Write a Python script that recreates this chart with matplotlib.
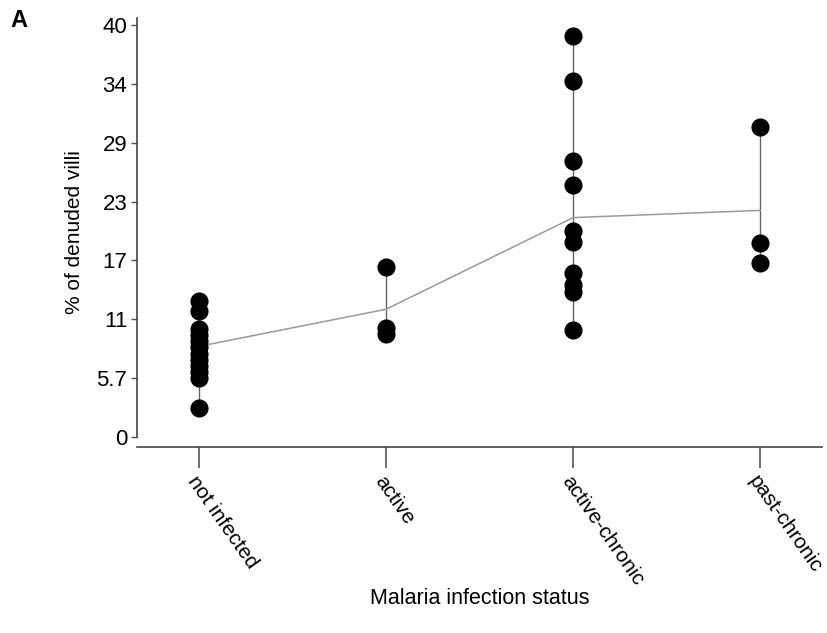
#! /usr/bin/env python3
# coding: utf-8

import matplotlib
matplotlib.use('Agg')
import matplotlib.pyplot as plt

plt.rcParams['font.family'] = ['Liberation Sans', 'DejaVu Sans']

CATEGORIES = ['not infected', 'active', 'active-chronic', 'past-chronic']

NOT_INFECTED = [13.2, 12.2, 10.5, 9.9, 9.3, 8.7, 8.1, 7.5, 6.9, 6.3, 5.7, 2.8]
ACTIVE = [16.5, 10.6, 10.0]
ACTIVE_CHRONIC = [38.9, 34.6, 26.8, 24.5, 20.0, 18.9, 15.9, 14.8, 14.1, 10.4]
PAST_CHRONIC = [30.1, 18.8, 16.9]

GROUP_MEANS = [8.8, 12.4, 21.3, 22.0]

Y_TICKS = [0, 40 / 7, 80 / 7, 120 / 7, 160 / 7, 200 / 7, 240 / 7, 40]
Y_TICK_LABELS = ['0', '5.7', '11', '17', '23', '29', '34', '40']

fig = plt.figure(figsize=(8.27, 6.33), dpi=100)
ax = fig.add_axes([0.1657, 0.2938, 0.8283, 0.6778])

groups = [NOT_INFECTED, ACTIVE, ACTIVE_CHRONIC, PAST_CHRONIC]
for i, values in enumerate(groups):
    ax.plot([i, i], [min(values), max(values)], color='#666666', lw=1.0, zorder=1)
    ax.scatter([i] * len(values), values, s=145, color='black', zorder=3)

ax.plot(range(len(CATEGORIES)), GROUP_MEANS, color='#999999', lw=1.1, zorder=2)

ax.set_xlim(-0.33, 3.33)
ax.set_ylim(-0.97, 40.68)
ax.set_xticks(range(len(CATEGORIES)))
ax.set_xticklabels(CATEGORIES, rotation=-55, ha='left', va='top',
                   rotation_mode='anchor', fontsize=15)
ax.set_yticks(Y_TICKS)
ax.set_yticklabels(Y_TICK_LABELS, fontsize=16)

for side in ['top', 'right']:
    ax.spines[side].set_visible(False)
ax.spines['left'].set_bounds(0, 40.68)
for side in ['left', 'bottom']:
    ax.spines[side].set_color('#444444')
    ax.spines[side].set_linewidth(1.2)

ax.tick_params(axis='x', length=15, width=1.2, color='#555555', pad=3)
ax.tick_params(axis='y', length=4, width=1.0, color='#555555', pad=3)

ax.set_ylabel('% of denuded villi', fontsize=15, labelpad=9)
fig.text(0.58, 0.055, 'Malaria infection status', fontsize=15.5, ha='center', va='center')
fig.text(0.013, 0.968, 'A', fontsize=17, fontweight='bold', ha='left', va='center')

fig.savefig('out.png', dpi=100)
